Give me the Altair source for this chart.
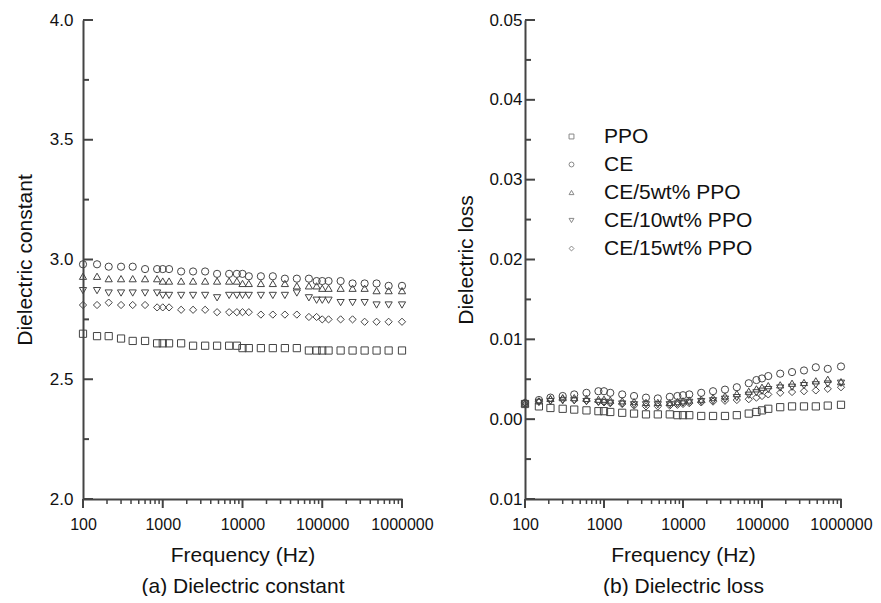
import altair as alt
import pandas as pd

freq = [100, 150, 210, 300, 420, 600, 850, 1000, 1200, 1700, 2400, 3400, 4800, 6800, 8500,
        10000, 12000, 17000, 24000, 34000, 48000, 68000, 85000, 100000, 120000, 170000,
        240000, 340000, 480000, 680000, 1000000]

series = ["PPO", "CE", "CE/5wt% PPO", "CE/10wt% PPO", "CE/15wt% PPO"]
shapes = ["square", "circle", "triangle-up", "triangle-down", "diamond"]

# (a) dielectric constant
const_ppo = [2.69, 2.68, 2.68, 2.67, 2.66, 2.66, 2.65, 2.65, 2.65, 2.65, 2.64, 2.64, 2.64, 2.64, 2.64,
             2.63, 2.63, 2.63, 2.63, 2.63, 2.63, 2.62, 2.62, 2.62, 2.62, 2.62, 2.62, 2.62, 2.62, 2.62, 2.62]
const_ce = [2.98, 2.98, 2.97, 2.97, 2.97, 2.96, 2.96, 2.96, 2.96, 2.95, 2.95, 2.95, 2.94, 2.94, 2.94,
            2.94, 2.93, 2.93, 2.93, 2.92, 2.92, 2.92, 2.91, 2.91, 2.91, 2.91, 2.90, 2.90, 2.90, 2.89, 2.89]
const_ce5 = [2.93, 2.93, 2.92, 2.92, 2.92, 2.92, 2.92, 2.91, 2.91, 2.91, 2.91, 2.91, 2.91, 2.91, 2.91,
             2.90, 2.90, 2.90, 2.90, 2.90, 2.89, 2.89, 2.89, 2.88, 2.88, 2.88, 2.88, 2.88, 2.87, 2.87, 2.87]
const_ce10 = [2.87, 2.87, 2.86, 2.86, 2.86, 2.86, 2.86, 2.85, 2.85, 2.85, 2.85, 2.85, 2.84, 2.85, 2.85,
              2.85, 2.85, 2.85, 2.85, 2.85, 2.86, 2.84, 2.83, 2.83, 2.83, 2.82, 2.82, 2.82, 2.81, 2.81, 2.81]
const_ce15 = [2.81, 2.81, 2.82, 2.81, 2.81, 2.81, 2.80, 2.80, 2.80, 2.79, 2.79, 2.79, 2.78, 2.78, 2.78,
              2.78, 2.78, 2.77, 2.77, 2.77, 2.77, 2.76, 2.76, 2.75, 2.75, 2.75, 2.75, 2.74, 2.74, 2.74, 2.74]

# (b) dielectric loss
loss_ppo = [0.0019, 0.0016, 0.0014, 0.0013, 0.0012, 0.0011, 0.0010, 0.0010, 0.0009, 0.0008, 0.0007,
            0.0006, 0.0006, 0.0006, 0.0005, 0.0005, 0.0005, 0.0004, 0.0004, 0.0004, 0.0005, 0.0007,
            0.0009, 0.0011, 0.0013, 0.0015, 0.0016, 0.0016, 0.0016, 0.0017, 0.0018]
loss_ce = [0.0020, 0.0024, 0.0027, 0.0029, 0.0031, 0.0033, 0.0035, 0.0035, 0.0033, 0.0031, 0.0029,
           0.0027, 0.0026, 0.0028, 0.0029, 0.0030, 0.0031, 0.0033, 0.0035, 0.0037, 0.0040, 0.0045,
           0.0049, 0.0051, 0.0054, 0.0057, 0.0059, 0.0061, 0.0065, 0.0063, 0.0066]
loss_ce5 = [0.0020, 0.0023, 0.0026, 0.0027, 0.0027, 0.0026, 0.0025, 0.0025, 0.0024, 0.0023, 0.0022,
            0.0021, 0.0021, 0.0021, 0.0022, 0.0023, 0.0024, 0.0025, 0.0027, 0.0029, 0.0032, 0.0035,
            0.0038, 0.0040, 0.0042, 0.0043, 0.0045, 0.0046, 0.0048, 0.0050, 0.0047]
loss_ce10 = [0.0019, 0.0021, 0.0022, 0.0023, 0.0023, 0.0022, 0.0021, 0.0021, 0.0020, 0.0019, 0.0018,
             0.0018, 0.0018, 0.0018, 0.0019, 0.0020, 0.0021, 0.0022, 0.0023, 0.0025, 0.0027, 0.0030,
             0.0033, 0.0035, 0.0037, 0.0039, 0.0040, 0.0042, 0.0043, 0.0044, 0.0045]
loss_ce15 = [0.0021, 0.0022, 0.0024, 0.0025, 0.0024, 0.0023, 0.0022, 0.0021, 0.0020, 0.0019, 0.0017,
             0.0016, 0.0016, 0.0017, 0.0018, 0.0019, 0.0020, 0.0021, 0.0022, 0.0023, 0.0024, 0.0025,
             0.0027, 0.0029, 0.0031, 0.0033, 0.0034, 0.0035, 0.0036, 0.0038, 0.0040]

x_major = [100, 1000, 10000, 100000, 1000000]
x_minor = [m * 10 ** e for e in range(2, 6) for m in range(2, 10)]
ya_major = [2.0, 2.5, 3.0, 3.5, 4.0]
ya_minor = [2.25, 2.75, 3.25, 3.75]
yb_major = [-0.01, 0.0, 0.01, 0.02, 0.03, 0.04, 0.05]
yb_minor = [-0.005, 0.005, 0.015, 0.025, 0.035, 0.045]

FONT = "Liberation Sans"
H = 479
MARK = "#444444"
INK = "#444444"


def long_df(cols):
    rows = []
    for s, vals in zip(series, cols):
        for f, v in zip(freq, vals):
            rows.append({"freq": f, "value": v, "series": s})
    return pd.DataFrame(rows)


def panel(df, width, ydomain, ymaj, ymin, ytitle, caption, ylabpad, ytitlepad, yfmt_expr, legend):
    xs = alt.X("freq:Q",
               scale=alt.Scale(type="log", domain=[100, 1000000]),
               axis=alt.Axis(values=x_major, format="d", ticks=False, grid=False,
                             domainColor=INK, domainWidth=2,
                             labelFontSize=16, labelFont=FONT, labelColor="#111",
                             labelPadding=17, labelFlush=False,
                             title=["Frequency (Hz)", caption], titleFont=FONT,
                             titleFontSize=21, titleFontWeight="normal", titleColor="#111",
                             titlePadding=12, titleLineHeight=31))
    ys = alt.Y("value:Q",
               scale=alt.Scale(domain=ydomain, nice=False, zero=False),
               axis=alt.Axis(values=ymaj, labelExpr=yfmt_expr, ticks=False, grid=False,
                             domainColor=INK, domainWidth=2,
                             labelFontSize=17, labelFont=FONT, labelColor="#111",
                             labelPadding=ylabpad, labelFlush=False,
                             title=ytitle, titleFont=FONT, titleFontSize=21,
                             titleFontWeight="normal", titleColor="#111",
                             titlePadding=ytitlepad))
    pts = alt.Chart(df).mark_point(filled=False, size=52, strokeWidth=1, color=MARK,
                                   opacity=1).encode(
        x=xs, y=ys,
        shape=alt.Shape("series:N", scale=alt.Scale(domain=series, range=shapes),
                        legend=legend))
    # inward ticks on the y axis
    yt_major = alt.Chart(pd.DataFrame({"value": ymaj})).mark_rule(
        color=INK, strokeWidth=2).encode(y=ys, x=alt.value(0), x2=alt.value(10))
    yt_minor = alt.Chart(pd.DataFrame({"value": ymin})).mark_rule(
        color=INK, strokeWidth=2).encode(y=ys, x=alt.value(0), x2=alt.value(6))
    # outward ticks on the x axis
    xt_major = alt.Chart(pd.DataFrame({"freq": x_major})).mark_rule(
        color=INK, strokeWidth=2).encode(x=xs, y=alt.value(H), y2=alt.value(H + 9))
    xt_minor = alt.Chart(pd.DataFrame({"freq": x_minor})).mark_rule(
        color=INK, strokeWidth=1.5).encode(x=xs, y=alt.value(H), y2=alt.value(H + 5))
    return alt.layer(pts, yt_major, yt_minor, xt_major, xt_minor).properties(
        width=width, height=H)


left = panel(long_df([const_ppo, const_ce, const_ce5, const_ce10, const_ce15]), 319,
             [2.0, 4.0], ya_major, ya_minor, "Dielectric constant",
             "(a) Dielectric constant", 10, 14, "format(datum.value, '.1f')", None)

legend_b = alt.Legend(orient="none", legendX=36, legendY=106, title=None,
                      labelFont=FONT, labelFontSize=21, labelColor="#111",
                      symbolSize=24, symbolStrokeColor="#888", symbolStrokeWidth=1,
                      symbolFillColor="transparent", labelOffset=22, rowPadding=6)

right = panel(long_df([loss_ppo, loss_ce, loss_ce5, loss_ce10, loss_ce15]), 316,
              [-0.01, 0.05], yb_major, yb_minor, "Dielectric loss",
              "(b) Dielectric loss", 3, 12, "format(abs(datum.value), '.2f')", legend_b)

chart = alt.hconcat(left, right, spacing=21).resolve_scale(
    shape="independent").resolve_legend(shape="independent").properties(
    padding={"left": 6, "top": 3, "right": 0, "bottom": 0},
    background="white"
).configure_view(stroke=None)

chart.save("out.html", embed_options={"renderer": "svg", "actions": False})
